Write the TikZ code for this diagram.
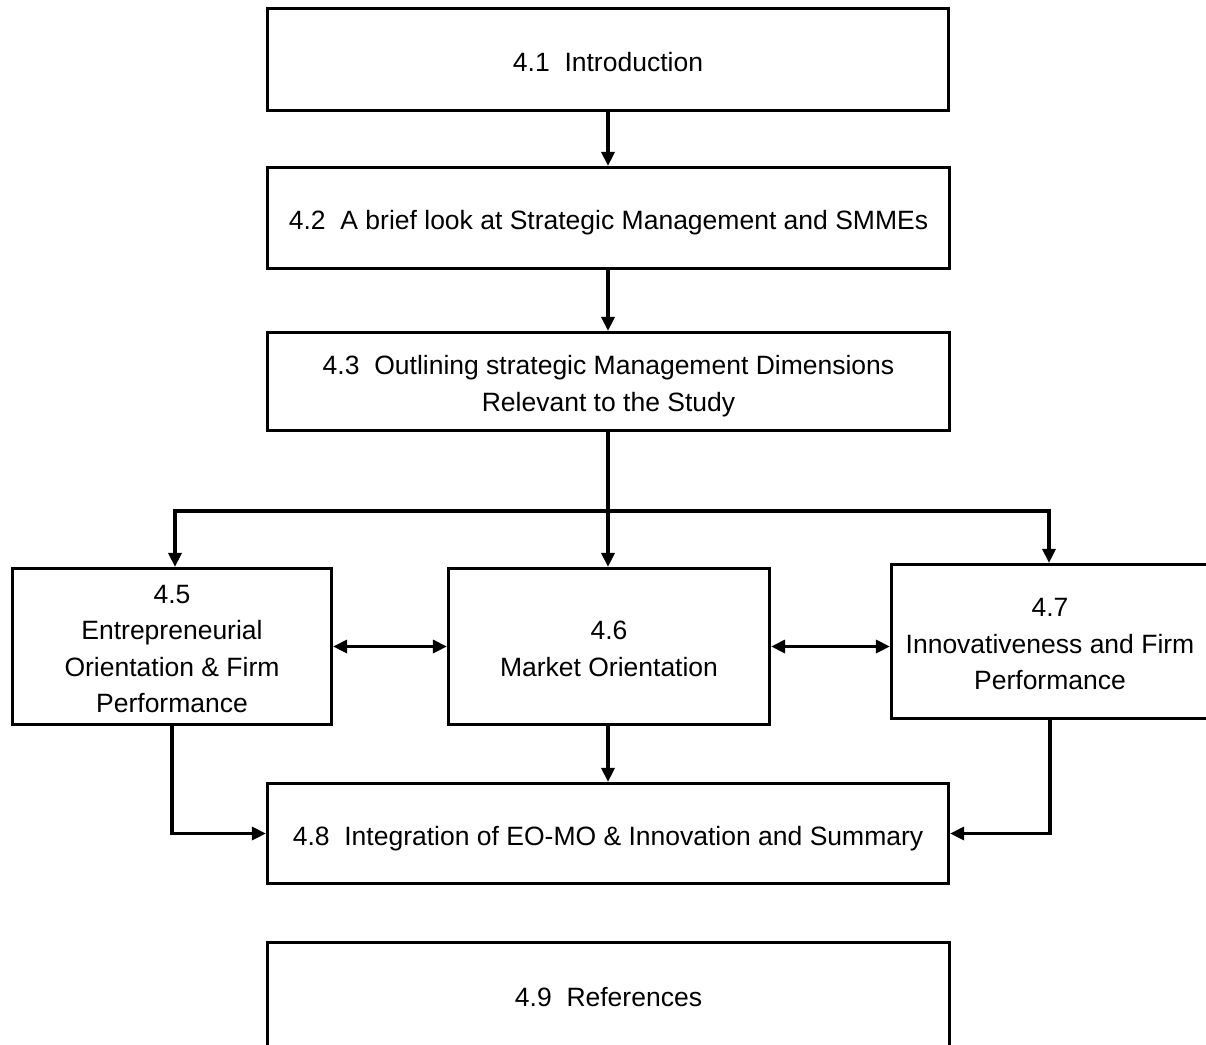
\documentclass[tikz,border=0pt]{standalone}
\usepackage{fontspec}
\setmainfont{Liberation Sans}
\usetikzlibrary{arrows.meta}
% struts giving every box the same top and bottom text margins
\newcommand\boxtop{\rule{0pt}{29pt}}
\newcommand\boxbot{\rule[-6pt]{0pt}{0pt}}
\begin{document}
\begin{tikzpicture}[x=1pt,y=-1pt,
  box/.style={draw, line width=3.2pt, align=center, inner sep=0pt,
    font=\fontsize{26.5}{36.5}\selectfont},
  arr/.style={line width=3.2pt, -{Triangle[length=14pt,width=13pt]}},
  biarr/.style={line width=3.2pt, {Triangle[length=14pt,width=13pt]}-{Triangle[length=14pt,width=13pt]}}]
\useasboundingbox (0,0) rectangle (1206,1044);
% chapter sections
\node[box, minimum width=681pt, minimum height=102pt] (s41) at (608,59.5) {\boxtop 4.1\ \ Introduction\boxbot};
\node[box, minimum width=682pt, minimum height=101pt] (s42) at (608.5,218) {\boxtop 4.2\ \ A brief look at Strategic Management and SMMEs\boxbot};
\node[box, minimum width=682pt, minimum height=98pt] (s43) at (608.5,381.5) {\boxtop 4.3\ \ Outlining strategic Management Dimensions\\Relevant to the Study\boxbot};
\node[box, minimum width=319pt, minimum height=156pt] (s45) at (172,646.5) {\boxtop 4.5\\Entrepreneurial\\Orientation \& Firm\\Performance\boxbot};
\node[box, minimum width=321pt, minimum height=156pt] (s46) at (609,646.5) {\boxtop 4.6\\Market Orientation\boxbot};
\node[box, minimum width=317pt, minimum height=154pt] (s47) at (1050,641.5) {\boxtop 4.7\\Innovativeness and Firm\\Performance\boxbot};
\node[box, minimum width=681pt, minimum height=100pt] (s48) at (608,833.5) {\boxtop 4.8\ \ Integration of EO-MO \& Innovation and Summary\boxbot};
\node[box, minimum width=682pt, minimum height=104pt] (s49) at (608.5,994.5) {\boxtop 4.9\ \ References\boxbot};
% connectors
\coordinate (split) at (608,511);
\draw[arr] (s41.south -| 608,0) -- (s42.north -| 608,0);
\draw[arr] (s42.south -| 608,0) -- (s43.north -| 608,0);
\draw[arr] (s43.south -| 608,0) -- (s46.north -| 608,0);
\draw[line width=3.2pt] (175,511) -- (1049,511);
\draw[arr] (split) -| ([xshift=3pt]s45.north);
\draw[arr] (split) -| ([xshift=-1pt]s47.north);
\draw[biarr] (s45.east) -- (s46.west);
\draw[biarr] (s46.east) -- (s47.west |- s46.east);
\draw[arr] (s46.south -| 608,0) -- (s48.north -| 608,0);
\draw[arr] (s45.south) |- (s48.west);
\draw[arr] (s47.south) |- (s48.east);
\end{tikzpicture}
\end{document}
